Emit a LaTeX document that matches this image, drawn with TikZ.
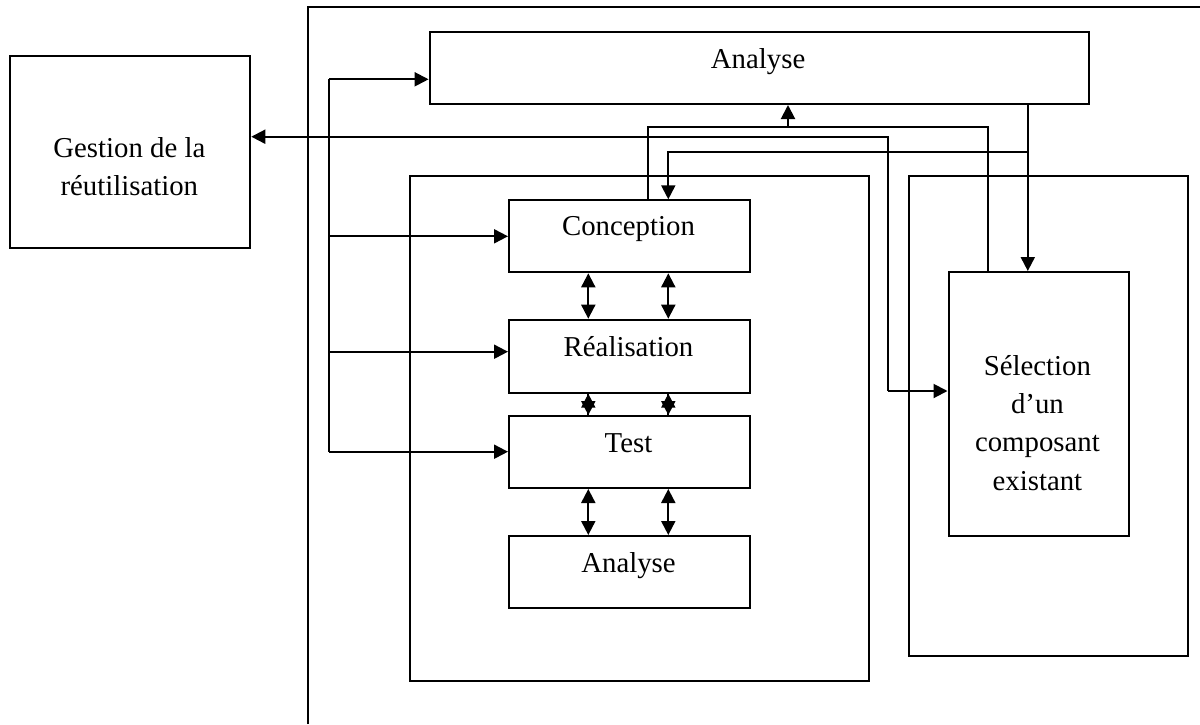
\documentclass[tikz,border=0pt]{standalone}
\usepackage{fontspec}
\setmainfont{Liberation Serif}
\usetikzlibrary{arrows.meta}
\begin{document}
\begin{tikzpicture}[x=1pt,y=-1pt,
  box/.style={draw, line width=2pt, inner sep=0pt, anchor=north west},
  lbl/.style={font=\fontsize{28.8}{38.3}\selectfont, anchor=base, inner sep=0pt, align=center},
  link/.style={line width=2pt},
  arr/.style={link, -{Triangle[length=14pt,width=14pt]}},
  darr/.style={link, {Triangle[length=14pt,width=14pt]}-{Triangle[length=14pt,width=14pt]}}]
\useasboundingbox (0,0) rectangle (1200,724);

% enclosing frame (open to the right and bottom)
\coordinate (fb) at (308.3,724);
\coordinate (ftl) at (308.3,7.3);
\coordinate (ftr) at (1200,7.3);
\draw[link] (fb) -- (ftl) -- (ftr);

% boxes
\node[box, minimum width=240pt, minimum height=192pt] (ges) at (9.3,55) {};
\node[box, minimum width=659pt, minimum height=72pt] (ana) at (428.6,31) {};
\node[box, minimum width=459.3pt, minimum height=505pt] (inl) at (408.7,175) {};
\node[box, minimum width=279.5pt, minimum height=480pt] (inr) at (907.7,175) {};
\node[box, minimum width=241pt, minimum height=72pt] (con) at (508,199.3) {};
\node[box, minimum width=241pt, minimum height=73pt] (rea) at (508,318.7) {};
\node[box, minimum width=241pt, minimum height=72pt] (tst) at (508,415) {};
\node[box, minimum width=241pt, minimum height=72pt] (an2) at (508,535) {};
\node[box, minimum width=180pt, minimum height=264pt] (sel) at (947.5,271) {};

% labels (multi-line labels sit on the baseline of their last line)
\node[lbl] (ges-t) at (129.3,195.3) {Gestion de la\\réutilisation};
\node[lbl] (ana-t) at (758.1,68) {Analyse};
\node[lbl] (con-t) at (628.5,235) {Conception};
\node[lbl] (rea-t) at (628.5,356) {Réalisation};
\node[lbl] (tst-t) at (628.5,452) {Test};
\node[lbl] (an2-t) at (628.5,572) {Analyse};
\node[lbl] (sel-t) at (1037.4,490) {Sélection\\d’un\\composant\\existant};

% helper positions
\coordinate (xa) at (588.3,0);
\coordinate (xb) at (668.3,0);
\coordinate (xc) at (648,0);
\coordinate (xd) at (987.7,0);
\coordinate (xe) at (1027.8,0);
\coordinate (b1) at (329,79.3);
\coordinate (b4) at (329,451.7);
\coordinate (yr) at (0,351.7);
\coordinate (j1) at (1027.8,151.5);
\coordinate (j2) at (788,126.7);
\coordinate (j3) at (887.8,391);
\coordinate (yg) at (0,136.7);

% bus on the left feeding the phases
\draw[link] (b1) -- (b4);
\draw[arr] (b1) -- (ana.west |- b1);
\draw[arr] (b1 |- con.west) -- (con.west);
\draw[arr] (b1 |- yr) -- (rea.west |- yr);
\draw[arr] (b4) -- (tst.west |- b4);

% links between the phases
\draw[darr] (con.south -| xa) -- (rea.north -| xa);
\draw[darr] (con.south -| xb) -- (rea.north -| xb);
\draw[arr] (rea.south -| xa) -- (tst.north -| xa);
\draw[arr] (tst.north -| xa) -- (rea.south -| xa);
\draw[arr] (rea.south -| xb) -- (tst.north -| xb);
\draw[arr] (tst.north -| xb) -- (rea.south -| xb);
\draw[darr] (tst.south -| xa) -- (an2.north -| xa);
\draw[darr] (tst.south -| xb) -- (an2.north -| xb);

% analysis towards selection and design
\draw[arr] (ana.south -| xe) -- (sel.north -| xe);
\draw[arr] (j1) -| (con.north -| xb);

% design back to analysis and selection
\draw[link] (con.north -| xc) |- (j2) -| (sel.north -| xd);
\draw[arr] (j2) -- (ana.south -| j2);

% reuse management
\draw[arr] (j3) |- (ges.east |- yg);
\draw[arr] (j3) -- (sel.west |- j3);
\end{tikzpicture}
\end{document}
